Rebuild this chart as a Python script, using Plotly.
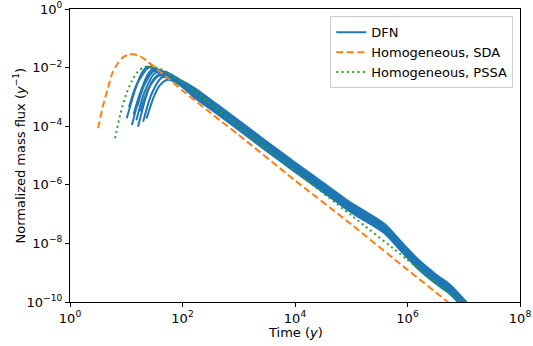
import numpy as np
import plotly.graph_objects as go

# Values, stored as log10(time [y]) and log10(normalized flux [1/y])
sda_log_t = [0.50, 0.58, 0.66, 0.75, 0.85, 0.95, 1.05, 1.15, 1.25, 1.35, 1.50, 1.70, 2.00, 2.50, 3.00, 4.00, 5.00, 6.00, 6.67, 6.80]
sda_log_f = [-4.07, -3.35, -2.80, -2.20, -1.85, -1.64, -1.55, -1.55, -1.62, -1.75, -1.98, -2.30, -2.78, -3.55, -4.30, -5.85, -7.35, -8.90, -9.93, -10.15]

pssa_log_t = [0.80, 0.90, 1.00, 1.10, 1.20, 1.30, 1.40, 1.55, 1.75, 2.07, 2.50, 3.00, 4.00, 5.00, 6.00, 6.93, 7.05]
pssa_log_f = [-4.41, -3.55, -2.90, -2.45, -2.15, -2.00, -1.95, -2.00, -2.18, -2.60, -3.25, -4.02, -5.53, -7.04, -8.56, -10.00, -10.20]

tail_log_t = [2.2, 2.6, 3.0, 3.5, 4.0, 4.5, 5.0, 5.3, 5.6, 5.9, 6.2, 6.5, 6.75, 7.0, 7.2]

dfn_early_log_t = [
    [1.01, 1.15, 1.27, 1.38, 1.55, 1.78],
    [1.05, 1.18, 1.40, 1.60, 1.80],
    [1.10, 1.25, 1.35, 1.45, 1.65, 1.85],
    [1.13, 1.28, 1.48, 1.70, 1.90],
    [1.18, 1.33, 1.52, 1.75, 1.95],
    [1.21, 1.35, 1.45, 1.57, 1.80, 2.00],
    [1.25, 1.40, 1.58, 1.80],
    [1.30, 1.45, 1.64, 1.85],
    [1.36, 1.50, 1.60, 1.72, 1.90],
    [1.20, 1.32, 1.50, 1.70, 1.90],
]
dfn_early_log_f = [
    [-3.73, -2.80, -2.20, -1.97, -2.05, -2.25],
    [-3.35, -2.60, -2.00, -2.10, -2.30],
    [-3.96, -2.90, -2.35, -2.08, -2.15, -2.35],
    [-3.60, -2.70, -2.12, -2.20, -2.40],
    [-3.80, -2.80, -2.18, -2.28, -2.50],
    [-4.02, -3.00, -2.50, -2.25, -2.33, -2.60],
    [-3.50, -2.70, -2.28, -2.38],
    [-3.85, -2.90, -2.33, -2.45],
    [-3.74, -2.95, -2.60, -2.42, -2.50],
    [-3.30, -2.60, -2.10, -2.15, -2.35],
]
dfn_tail_log_f = [
    [-2.68, -3.24, -3.81, -4.53, -5.24, -5.93, -6.62, -6.97, -7.35, -7.97, -8.57, -9.05, -9.40, -9.90, -10.35],
    [-2.73, -3.29, -3.86, -4.58, -5.29, -5.98, -6.67, -7.02, -7.40, -8.02, -8.62, -9.10, -9.45, -9.95, -10.40],
    [-2.78, -3.34, -3.91, -4.63, -5.34, -6.03, -6.72, -7.07, -7.45, -8.07, -8.67, -9.15, -9.50, -10.00, -10.45],
    [-2.83, -3.39, -3.96, -4.68, -5.39, -6.08, -6.77, -7.12, -7.50, -8.12, -8.72, -9.20, -9.55, -10.05, -10.50],
    [-2.86, -3.42, -3.99, -4.71, -5.42, -6.11, -6.80, -7.15, -7.53, -8.15, -8.75, -9.23, -9.58, -10.08, -10.53],
    [-2.89, -3.45, -4.02, -4.74, -5.45, -6.14, -6.83, -7.18, -7.56, -8.18, -8.78, -9.26, -9.61, -10.11, -10.56],
    [-2.93, -3.49, -4.06, -4.78, -5.49, -6.18, -6.87, -7.22, -7.60, -8.22, -8.82, -9.30, -9.65, -10.15, -10.60],
    [-2.96, -3.52, -4.09, -4.81, -5.52, -6.21, -6.90, -7.25, -7.63, -8.25, -8.85, -9.33, -9.68, -10.18, -10.63],
    [-3.00, -3.56, -4.13, -4.85, -5.56, -6.25, -6.94, -7.29, -7.67, -8.29, -8.89, -9.37, -9.72, -10.22, -10.67],
    [-2.76, -3.32, -3.89, -4.61, -5.32, -6.01, -6.70, -7.05, -7.43, -8.05, -8.65, -9.13, -9.48, -9.98, -10.43],
]

x_tick_exp = [0, 2, 4, 6, 8]
y_tick_exp = [0, -2, -4, -6, -8, -10]
x_title = "Time (<i>y</i>)"
y_title = "Normalized mass flux (<i>y</i><sup>\u22121</sup>)"

BLUE, ORANGE, GREEN = "#1f77b4", "#ff7f0e", "#2ca02c"
FONT = "DejaVu Sans"

def sup(e):
    s = str(e).replace("-", "\u2212")
    return f"10<sup>{s}</sup>"

fig = go.Figure()
for i, (et, ef, tf) in enumerate(zip(dfn_early_log_t, dfn_early_log_f, dfn_tail_log_f)):
    lt = np.array(et + tail_log_t)
    lf = np.array(ef + tf)
    fig.add_trace(go.Scatter(
        x=10 ** lt, y=10 ** lf, mode="lines",
        line=dict(color=BLUE, width=2, shape="spline", smoothing=0.7),
        name="DFN", showlegend=(i == 0), legendgroup="dfn"))

fig.add_trace(go.Scatter(
    x=10 ** np.array(sda_log_t), y=10 ** np.array(sda_log_f), mode="lines",
    line=dict(color=ORANGE, width=2, dash="7px,3.5px", shape="spline", smoothing=0.7),
    name="Homogeneous, SDA"))
fig.add_trace(go.Scatter(
    x=10 ** np.array(pssa_log_t), y=10 ** np.array(pssa_log_f), mode="lines",
    line=dict(color=GREEN, width=2, dash="2px,3.3px", shape="spline", smoothing=0.7),
    name="Homogeneous, PSSA"))

axis_common = dict(
    type="log", showgrid=False, zeroline=False, showline=True, linecolor="black",
    linewidth=1.2, mirror=True, ticks="outside", ticklen=4, tickwidth=1.1,
    tickcolor="black", tickfont=dict(family=FONT, size=13, color="black"),
    automargin=False,
)
fig.update_xaxes(
    **axis_common, range=[0, 8],
    tickvals=[10 ** e for e in x_tick_exp], ticktext=[sup(e) for e in x_tick_exp],
)
fig.update_yaxes(
    **axis_common, range=[-10, 0],
    tickvals=[10.0 ** e for e in y_tick_exp], ticktext=[sup(e) for e in y_tick_exp],
)
fig.add_annotation(text=x_title, xref="paper", yref="paper", x=0.5, y=0,
                   xanchor="center", yanchor="middle", yshift=-30, showarrow=False,
                   font=dict(family=FONT, size=13, color="black"))
fig.add_annotation(text=y_title, xref="paper", yref="paper", x=0, y=0.5,
                   xanchor="center", yanchor="middle", xshift=-51, textangle=-90,
                   showarrow=False, font=dict(family=FONT, size=13, color="black"))
fig.update_layout(
    width=533, height=346,
    margin=dict(l=70, r=13, t=9, b=44, autoexpand=False),
    plot_bgcolor="white", paper_bgcolor="white",
    font=dict(family=FONT, color="black"),
    legend=dict(x=0.985, y=0.975, xanchor="right", yanchor="top",
                bgcolor="rgba(255,255,255,0.8)", bordercolor="#cccccc", borderwidth=1,
                font=dict(family=FONT, size=13, color="black"),
                tracegroupgap=0, itemwidth=30),
    showlegend=True,
)
fig.write_html("out.html", config={"displayModeBar": False},
               post_script="document.body.style.margin='0';")
